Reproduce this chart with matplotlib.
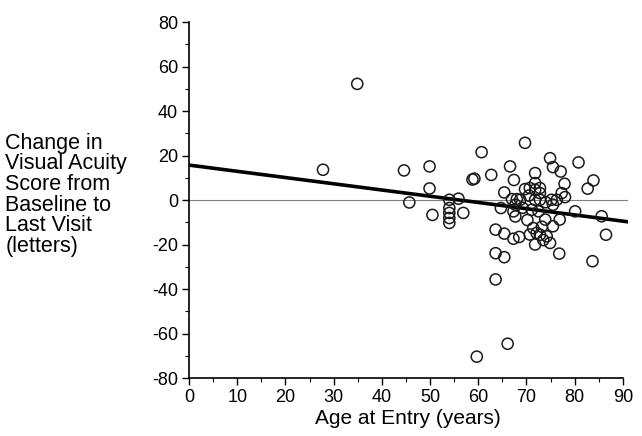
import numpy as np
import matplotlib
matplotlib.use('Agg')
import matplotlib.pyplot as plt
import matplotlib.ticker as mticker

plt.rcParams['font.family'] = ['Liberation Sans', 'DejaVu Sans']
plt.rcParams['axes.unicode_minus'] = False

# === dados ===
age = [34.9, 27.8, 44.6, 49.9, 49.9, 45.7, 50.5,
       54.0, 54.0, 54.0, 54.0, 54.0, 55.9, 56.9, 58.8, 59.2,
       60.7, 62.7, 69.7, 66.6, 67.4, 65.4, 64.7, 63.6, 65.4,
       67.3, 68.5, 63.6, 65.4, 63.6, 67.0, 68.0, 67.7, 67.3,
       67.7, 68.7, 71.8, 69.7, 70.7, 71.8, 71.8, 72.8, 71.8,
       72.8, 71.1, 72.5, 73.9, 71.4, 72.1, 72.8, 74.2, 71.8,
       74.9, 76.8, 74.9, 75.5, 77.1, 77.9, 75.2, 76.3, 78.0,
       75.5, 76.9, 75.5, 80.8, 82.7, 83.9, 80.1, 85.6, 86.5,
       83.7, 59.7, 66.1,
       72.8, 77.3, 69.2, 70.2, 73.2, 70.7, 73.5, 70.5, 74.0]
change = [52.2, 13.6, 13.3, 15.1, 5.2, -1.1, -6.7,
          0.1, -3.6, -5.8, -8.1, -10.3, 0.6, -5.8, 9.2, 9.6,
          21.5, 11.3, 25.7, 15.1, 9.0, 3.4, -3.6, -13.3, -15.1,
          -17.4, -16.6, -23.9, -25.7, -35.7, 0.4, 0.4, -2.1, -5.1,
          -7.4, 0.1, 12.1, 4.9, 5.4, 7.6, 4.6, 5.4, 0.1,
          0.1, -4.4, -5.1, -8.8, -12.6, -14.8, -15.6, -16.3, -20.0,
          -19.3, -24.1, 18.8, 14.8, 12.8, 7.3, 0.1, 0.1, 1.3,
          -2.1, -8.8, -11.8, 16.9, 5.1, 8.8, -5.1, -7.3, -15.6,
          -27.5, -70.4, -64.6,
          3.1, 3.1, -3.5, -9.0, -12.0, -15.5, -18.0, 2.0, -1.0]

# reta de regressão
fit_intercept = 15.7
fit_slope = -0.28
fit_x = np.array([0, 91])

x_ticks = list(range(0, 91, 10))
y_ticks = list(range(-80, 81, 20))

# === figura ===
fig = plt.figure(figsize=(6.42, 4.36), dpi=100)
ax = fig.add_axes([0.2944, 0.133, 0.6833, 0.8165])

ax.axhline(0, color='#808080', linewidth=0.8, zorder=1)
ax.plot(fit_x, fit_intercept + fit_slope * fit_x, color='black', linewidth=2.6, zorder=2)
ax.scatter(age, change, s=64, facecolors='none', edgecolors='#1a1a1a', linewidths=1.1, zorder=3)

ax.set_xlim(0, 91)
ax.set_ylim(-80, 80)
ax.set_xticks(x_ticks)
ax.set_yticks(y_ticks)
ax.xaxis.set_minor_locator(mticker.MultipleLocator(5))
ax.yaxis.set_minor_locator(mticker.MultipleLocator(10))

for side in ['top', 'right']:
    ax.spines[side].set_visible(False)
ax.spines['bottom'].set_bounds(0, 90)
ax.spines['left'].set_linewidth(1.2)
ax.spines['bottom'].set_linewidth(1.2)

ax.tick_params(axis='both', which='major', direction='out', length=5, width=1, labelsize=13, pad=3)
ax.tick_params(axis='both', which='minor', direction='out', length=3, width=0.8)

ax.set_xlabel('Age at Entry (years)', fontsize=15, labelpad=2)

fig.text(0.008, 0.553, 'Change in\nVisual Acuity\nScore from\nBaseline to\nLast Visit\n(letters)',
         ha='left', va='center', fontsize=15.5, linespacing=0.98)

fig.savefig('out.png', dpi=100)
